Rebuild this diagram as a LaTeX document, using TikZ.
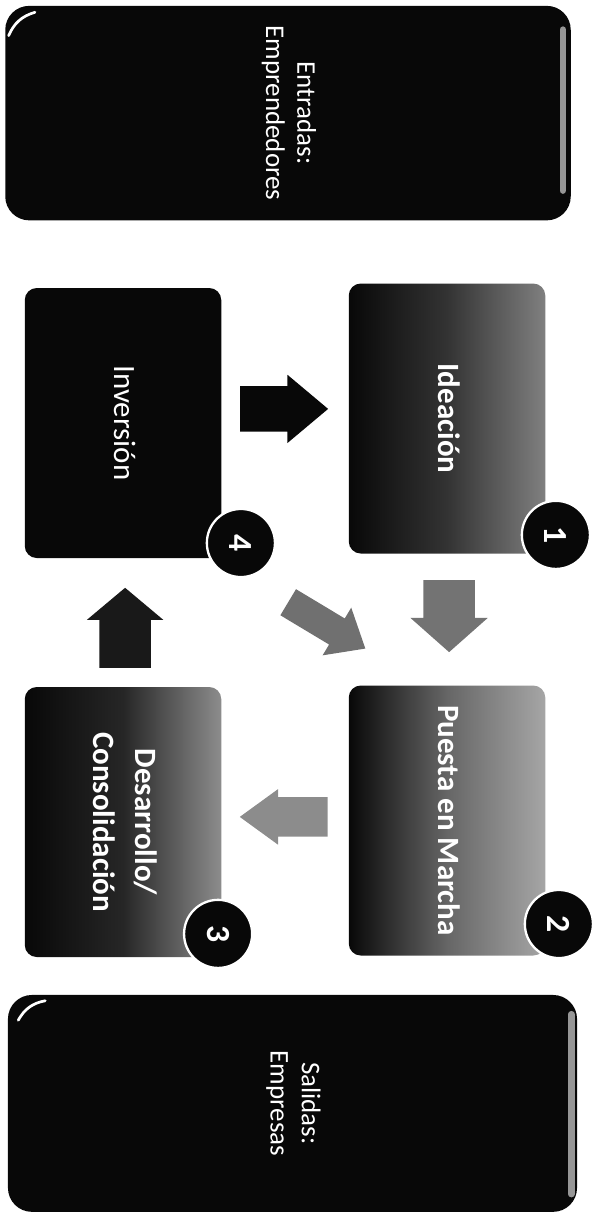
\documentclass[tikz,border=0pt]{standalone}
\usepackage{fontspec}
\setmainfont{Carlito}
\usetikzlibrary{positioning,shapes.arrows}
\definecolor{boxblack}{RGB}{8,8,8}
\definecolor{rimgray}{RGB}{150,150,150}
\tikzset{
  bigbox/.style={rectangle, rounded corners=0.8cm, fill=boxblack, minimum width=18.85cm, minimum height=7.15cm, text=white, font=\fontsize{25.6}{29.5}\selectfont},
  stagebox/.style={rectangle, rounded corners=0.4cm, minimum width=6.55cm, minimum height=9cm, text=white, font=\fontsize{29.4}{40}\selectfont},
  numdot/.style={circle, fill=boxblack, draw=white, line width=2.2pt, minimum size=2.27cm, inner sep=0pt, text=white, font=\fontsize{32}{32}\selectfont\bfseries},
  flowarr/.style={single arrow, inner xsep=0pt, draw=none, anchor=tail},
  gloss/.style={white, line width=0.09cm, line cap=round},
  rim/.style={rimgray, line width=0.22cm, line cap=round},
}
\newcommand{\vtext}[1]{\rotatebox{-90}{\begin{tabular}{@{}c@{}}#1\end{tabular}}}

\begin{document}
\begin{tikzpicture}
    \useasboundingbox (0,0) rectangle (19.93,-40.9);
    % inputs / outputs
    \node[bigbox] (entradas) at (9.6,-3.77) {\vtext{Entradas:\\Emprendedores}};
    \draw[gloss, shift={(entradas.north west)}] (0.12,-1.0) to[bend left=25] (1.0,-0.22);
    \draw[rim] ([xshift=-0.27cm, yshift=-0.8cm]entradas.north east) -- ([xshift=-0.27cm, yshift=1.0cm]entradas.south east);
    \node[bigbox, minimum width=18.97cm, minimum height=7.23cm] (salidas) at (9.75,-36.78) {\vtext{Salidas:\\Empresas}};
    \draw[gloss, shift={(salidas.north west)}] (0.35,-0.85) to[bend left=25] (1.25,-0.2);
    \draw[rim] ([xshift=-0.2cm, yshift=-0.65cm]salidas.north east) -- ([xshift=-0.2cm, yshift=0.6cm]salidas.south east);
    % stages
    \node[stagebox, fill=boxblack] (inversion) at (4.1,-14.1) {\vtext{Inversión}};
    \node[stagebox, left color=boxblack, right color=black!50, middle color=black!80] (ideacion) at (14.9,-13.95) {\vtext{\textbf{Ideación}}};
    \node[stagebox, left color=boxblack, right color=black!35, middle color=black!60] (puesta) at (14.9,-27.35) {\vtext{\textbf{Puesta en Marcha}}};
    \node[stagebox, left color=boxblack, right color=black!45, middle color=black!85] (desarrollo) at (4.1,-27.4) {\vtext{\textbf{Desarrollo/}\\\textbf{Consolidación}}};
    % step numbers
    \node[numdot] (n1) at (18.53,-17.83) {\rotatebox{-90}{1}};
    \node[numdot] (n2) at (18.63,-30.8) {\rotatebox{-90}{2}};
    \node[numdot] (n3) at (7.27,-31.13) {\rotatebox{-90}{3}};
    \node[numdot] (n4) at (8.03,-18.1) {\rotatebox{-90}{4}};
    % block arrows
    \node[flowarr, fill=boxblack, inner ysep=0.75cm, minimum height=2.93cm, single arrow head extend=0.38cm, single arrow tip angle=80] (a41) at (8.0,-13.63) {};
    \node[flowarr, fill=black!55, rotate=-90, inner ysep=0.85cm, minimum height=2.4cm, single arrow head extend=0.43cm, single arrow tip angle=97] (a12) at (14.97,-19.33) {};
    \node[flowarr, fill=black!45, rotate=180, inner ysep=0.65cm, minimum height=2.93cm, single arrow head extend=0.27cm, single arrow tip angle=72] (a23) at (10.93,-27.23) {};
    \node[flowarr, fill=black!90, rotate=90, inner ysep=0.85cm, minimum height=2.67cm, single arrow head extend=0.42cm, single arrow tip angle=100] (a34) at (4.17,-22.27) {};
    \node[flowarr, fill=black!70, opacity=0.8, rotate=-31, inner ysep=0.5cm, minimum height=3.0cm, single arrow head extend=0.42cm, single arrow tip angle=80] (a42) at (9.6,-20.07) {};
\end{tikzpicture}
\end{document}
